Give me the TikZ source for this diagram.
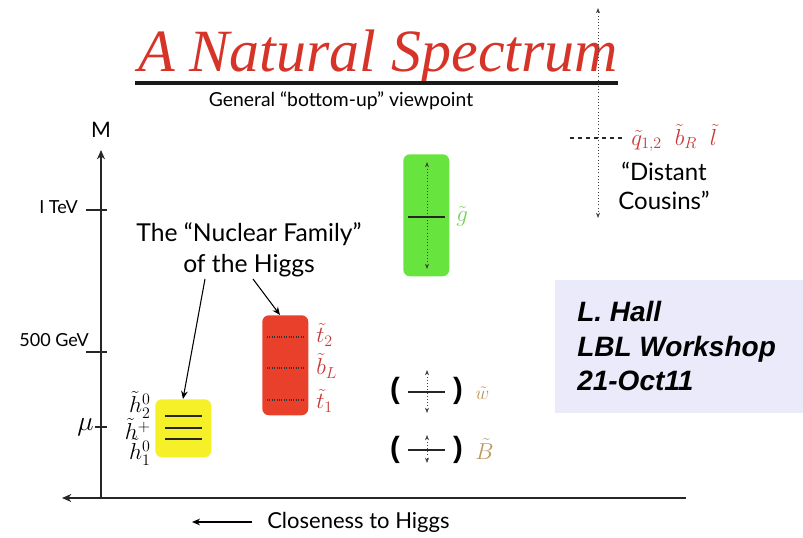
\documentclass[tikz,border=0pt]{standalone}
\usepackage{fontspec}
\usetikzlibrary{arrows.meta}
\newfontfamily\gillfont{Lato}
\newfontfamily\titlefont{Liberation Serif}
\newfontfamily\helvfont{Liberation Sans}
\definecolor{titlered}{RGB}{214,52,40}
\definecolor{boxred}{RGB}{232,64,42}
\definecolor{boxgreen}{RGB}{104,228,62}
\definecolor{boxyellow}{RGB}{246,240,40}
\definecolor{lavender}{RGB}{234,234,250}
\definecolor{labred}{RGB}{200,56,56}
\definecolor{labgreen}{RGB}{112,210,80}
\definecolor{labtan}{RGB}{192,150,92}
\tikzset{
  gill/.style={font=\gillfont\fontsize{14.5}{17}\selectfont, inner sep=0pt},
  axislbl/.style={font=\gillfont\fontsize{13.5}{15}\selectfont, inner sep=0pt},
  mlabel/.style={inner sep=0pt, font=\fontsize{16.5}{18}\selectfont},
  levelbox/.style={rounded corners=5pt, inner sep=0pt},
  dotarrow/.style={dotted, thin, black!75, {Stealth[length=4pt,width=3pt]}-{Stealth[length=4pt,width=3pt]}},
  solidbar/.style={line width=1.2pt, black!85},
  axis/.style={line width=1pt, black!85},
  pointer/.style={thick, -{Stealth[length=6pt,width=5pt]}},
  paren/.style={inner sep=0pt, font=\helvfont\bfseries\fontsize{22}{24}\selectfont}
}
\begin{document}
\begin{tikzpicture}[x=0.75pt,y=-0.75pt]
\useasboundingbox (0,0) rectangle (803,538);
% title
\node[inner sep=0pt, anchor=base, text=titlered, font=\titlefont\itshape\fontsize{45}{48}\selectfont] (title) at (378,72) {A Natural Spectrum};
\coordinate (ulA) at (135,83);
\coordinate (ulB) at (618,83);
\draw[line width=2.5pt, black!90] (ulA) -- (ulB);
\node[gill] (subtitle) at (341,101) {General “bottom-up” viewpoint};
% distant cousins
\coordinate (dtop) at (598,8);
\coordinate (dbot) at (598,218);
\draw[dotarrow] (dbot) -- (dtop);
\coordinate (dashA) at (570,138);
\coordinate (dashB) at (622,138);
\draw[dashed, thick, black!85] (dashA) -- (dashB);
\node[mlabel, anchor=west, text=labred] (qlab) at (631,138) {$\tilde q_{1,2}\;\;\tilde b_R\;\;\tilde l$};
\node[gill, align=center, font=\gillfont\fontsize{18}{21}\selectfont] (cousins) at (664,186) {“Distant\\[1pt]Cousins”};
% axes
\coordinate (orig) at (101,498);
\coordinate (ytop) at (101,150);
\coordinate (xleft) at (62,498);
\coordinate (xright) at (686,498);
\draw[axis, -{Stealth[length=7pt,width=6pt]}] (orig) -- (ytop);
\draw[axis, -{Stealth[length=7pt,width=6pt]}] (xright) -- (xleft);
\node[gill, font=\gillfont\fontsize{16}{18}\selectfont] (Mlab) at (101,130) {M};
% ticks
\coordinate (t1a) at (86,210); \coordinate (t1b) at (107,210);
\draw[axis] (t1a) -- (t1b);
\node[axislbl, anchor=east] (tev) at (78,207) {I TeV};
\coordinate (t2a) at (86,352); \coordinate (t2b) at (107,352);
\draw[axis] (t2a) -- (t2b);
\node[axislbl, anchor=east] (gev) at (89,340) {500 GeV};
\coordinate (t3a) at (95,427); \coordinate (t3b) at (107,427);
\draw[axis] (t3a) -- (t3b);
\node[inner sep=0pt, anchor=east, font=\fontsize{20}{22}\selectfont] (mu) at (94,427) {$\mu$};
% nuclear family
\node[gill, align=center, font=\gillfont\fontsize{18.5}{22}\selectfont] (nuc) at (249,250) {The “Nuclear Family”\\[1pt]of the Higgs};
% yellow box
\node[levelbox, fill=boxyellow, minimum width=56pt*0.75, minimum height=58pt*0.75, anchor=north west] (ybox) at (155,399) {};
\foreach \yy/\nm in {416/a,428/b,439/c}{
  \coordinate (yl\nm1) at (165,\yy); \coordinate (yl\nm2) at (202,\yy);
  \draw[solidbar] (yl\nm1) -- (yl\nm2);
}
\node[mlabel, anchor=east] (h2) at (151,405) {$\tilde h^0_2$};
\node[mlabel, anchor=east] (hp) at (151,429) {$\tilde h^+$};
\node[mlabel, anchor=east] (h1) at (151,452) {$\tilde h^0_1$};
% red box
\node[levelbox, fill=boxred, minimum width=46pt*0.75, minimum height=100pt*0.75, anchor=north west] (rbox) at (262,315) {};
\foreach \yy/\nm in {337/a,368/b,400/c}{
  \coordinate (rl\nm1) at (267,\yy); \coordinate (rl\nm2) at (304,\yy);
  \draw[densely dotted, thick, black!80] (rl\nm1) -- (rl\nm2);
}
\node[mlabel, anchor=west, text=labred] (t2) at (316,335) {$\tilde t_2$};
\node[mlabel, anchor=west, text=labred] (bL) at (316,366) {$\tilde b_L$};
\node[mlabel, anchor=west, text=labred] (t1) at (316,401) {$\tilde t_1$};
% pointers
\coordinate (pA) at (205,279);
\coordinate (pB) at (253,279);
\draw[pointer] (pA) -- (ybox.north -| 183,0);
\draw[pointer] (pB) -- (280,315);
% green box
\node[levelbox, fill=boxgreen, minimum width=46pt*0.75, minimum height=122pt*0.75, anchor=north west] (gbox) at (403,154) {};
\coordinate (gtop) at (427,162); \coordinate (gbot) at (427,269);
\draw[dotarrow] (gtop) -- (gbot);
\coordinate (gl1) at (408,217); \coordinate (gl2) at (445,217);
\draw[solidbar] (gl1) -- (gl2);
\node[mlabel, anchor=west, text=labgreen] (glu) at (456,216) {$\tilde g$};
% wino
\node[paren] (wl) at (395,391) {(};
\node[paren] (wr) at (458,391) {)};
\coordinate (wtop) at (427,370); \coordinate (wbot) at (427,413);
\draw[dotarrow] (wtop) -- (wbot);
\coordinate (wh1) at (408,392); \coordinate (wh2) at (445,392);
\draw[solidbar] (wh1) -- (wh2);
\node[inner sep=0pt, anchor=west, text=labtan, font=\fontsize{15}{17}\selectfont] (wino) at (475,393) {$\tilde w$};
% bino
\node[paren] (bl) at (395,450) {(};
\node[paren] (br) at (458,450) {)};
\coordinate (btop) at (427,435); \coordinate (bbot) at (427,463);
\draw[dotarrow] (btop) -- (bbot);
\coordinate (bh1) at (408,450); \coordinate (bh2) at (445,450);
\draw[solidbar] (bh1) -- (bh2);
\node[mlabel, anchor=west, text=labtan] (bino) at (475,449) {$\tilde B$};
% author box
\node[fill=lavender, minimum width=248pt*0.75, minimum height=133pt*0.75, anchor=north west, inner sep=0pt] (abox) at (555,280) {};
\node[anchor=west, inner sep=0pt, align=left, font=\helvfont\bfseries\itshape\fontsize{21}{26}\selectfont] (auth) at (577,346) {L. Hall\\LBL Workshop\\21-Oct11};
% bottom
\coordinate (bA) at (252,522);
\coordinate (bB) at (192,522);
\draw[thick, -{Stealth[length=6pt,width=5pt]}] (bA) -- (bB);
\node[gill, anchor=west, font=\gillfont\fontsize{16.5}{18}\selectfont] (close) at (267,522) {Closeness to Higgs};
\end{tikzpicture}
\end{document}
